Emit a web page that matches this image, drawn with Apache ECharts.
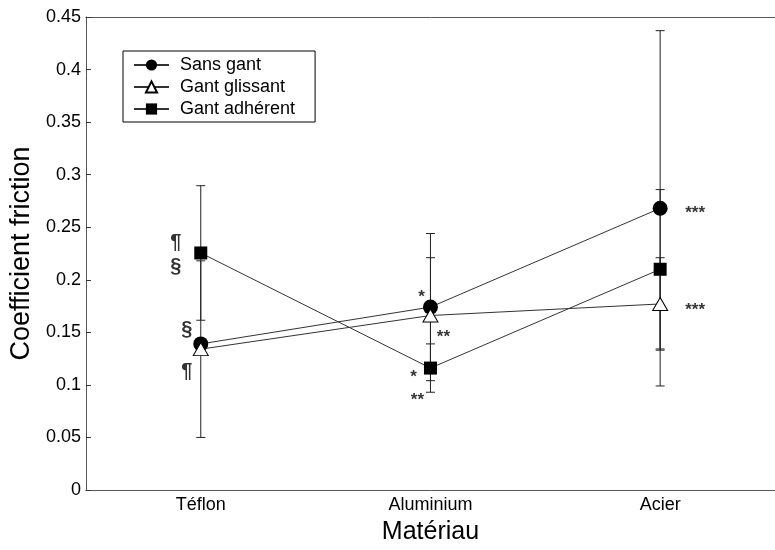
<!DOCTYPE html>
<html><head><meta charset="utf-8">
<script src="https://cdn.jsdelivr.net/npm/echarts@6/dist/echarts.min.js"></script>
<style>html,body{margin:0;padding:0;background:#fff}#c{width:775px;height:550px}</style>
</head><body><div id="c"></div>
<script>
const categories = ['Téflon', 'Aluminium', 'Acier'];
const seriesNames = ['Sans gant', 'Gant glissant', 'Gant adhérent'];
const sansGant = [0.139, 0.174, 0.268];
const gantGlissant = [0.134, 0.166, 0.177];
const gantAdherent = [0.2255, 0.116, 0.210];
const errSansGant = [null, 0.070, 0.169];
const errGlissant = [0.084, 0.055, 0.044];
const errAdherent = [0.064, 0.023, 0.0758];
// significance annotations: category index, value, text
const annotCat = [0, 0, 0, 0, 1, 1, 1, 1, 2, 2];
const annotVal = [0.2364, 0.2137, 0.1533, 0.1133, 0.188, 0.150, 0.112, 0.090, 0.268, 0.176];
const annotText = ['¶', '§', '§', '¶', '*', '**', '*', '**', '***', '***'];
const annotDx = [-25, -25, -14, -14, -9, 13, -17, -13, 35, 35];

const FONT = '"Liberation Sans", Arial, sans-serif';
const chart = echarts.init(document.getElementById('c'), null, {renderer: 'canvas'});

function errData(means, errs) {
  const out = [];
  means.forEach((m, i) => { if (errs[i] != null) out.push([i, m - errs[i], m + errs[i]]); });
  return out;
}
function renderErr(params, api) {
  const lo = api.coord([api.value(0), api.value(1)]);
  const hi = api.coord([api.value(0), api.value(2)]);
  const w = 4.5;
  const st = {stroke: '#222', lineWidth: 1};
  return {type: 'group', children: [
    {type: 'line', shape: {x1: lo[0], y1: lo[1], x2: hi[0], y2: hi[1]}, style: st},
    {type: 'line', shape: {x1: lo[0] - w, y1: lo[1], x2: lo[0] + w, y2: lo[1]}, style: st},
    {type: 'line', shape: {x1: hi[0] - w, y1: hi[1], x2: hi[0] + w, y2: hi[1]}, style: st}
  ]};
}
const errSeries = [[sansGant, errSansGant], [gantGlissant, errGlissant], [gantAdherent, errAdherent]].map(([m, e]) => ({
  type: 'custom', renderItem: renderErr, data: errData(m, e), z: 1, silent: true,
  encode: {x: 0, y: [1, 2]}
}));

const lineCommon = {type: 'line', z: 3, lineStyle: {color: '#333', width: 1}, emphasis: {disabled: true}};
const lineSeries = [
  Object.assign({}, lineCommon, {name: seriesNames[0], data: sansGant, symbol: 'circle', symbolSize: 15,
    itemStyle: {color: '#000', borderColor: '#000', borderWidth: 0}}),
  Object.assign({}, lineCommon, {name: seriesNames[1], data: gantGlissant, symbol: 'triangle', symbolSize: [15, 13],
    itemStyle: {color: '#fff', borderColor: '#000', borderWidth: 1}}),
  Object.assign({}, lineCommon, {name: seriesNames[2], data: gantAdherent, symbol: 'rect', symbolSize: 13,
    itemStyle: {color: '#000', borderColor: '#000', borderWidth: 0}})
];

const annotSeries = {
  type: 'scatter', z: 4, silent: true, symbolSize: 0,
  data: annotVal.map((v, i) => {
    const star = annotText[i].indexOf('*') >= 0;
    return {value: [annotCat[i], v], txt: annotText[i],
      label: {offset: [annotDx[i], star ? 5 : 1], fontSize: star ? 17 : 20,
        fontWeight: 'bold'}};
  }),
  label: {show: true, position: 'inside', color: '#000', fontFamily: FONT,
    formatter: p => p.data.txt}
};

chart.setOption({
  backgroundColor: '#fff',
  animation: false,
  textStyle: {fontFamily: FONT},
  grid: {left: 85, top: 17, width: 700, height: 485, containLabel: false},
  legend: {
    orient: 'vertical', left: 123, top: 51,
    data: seriesNames,
    itemWidth: 35, itemHeight: 14, itemGap: 4,
    padding: [5, 20, 4, 10],
    borderColor: '#000', borderWidth: 1, backgroundColor: '#fff',
    textStyle: {fontSize: 18, color: '#000', fontFamily: FONT, padding: [0, 0, 0, 6]}
  },
  xAxis: [{
    type: 'category', data: categories, boundaryGap: true, position: 'bottom',
    axisLine: {lineStyle: {color: '#555', width: 1}},
    axisTick: {inside: true, length: 5, alignWithLabel: true, lineStyle: {color: '#333'}},
    axisLabel: {fontSize: 18, color: '#000', margin: 6, fontFamily: FONT},
    name: 'Matériau', nameLocation: 'middle', nameGap: 30,
    nameTextStyle: {fontSize: 25, color: '#000', fontFamily: FONT},
    splitLine: {show: false}
  }, {
    type: 'category', data: categories, boundaryGap: true, position: 'top',
    axisLine: {lineStyle: {color: '#555', width: 1}},
    axisTick: {inside: true, length: 5, alignWithLabel: true, lineStyle: {color: '#333'}},
    axisLabel: {show: false}, splitLine: {show: false}
  }],
  yAxis: {
    type: 'value', min: 0, max: 0.45, interval: 0.05,
    axisLine: {show: true, lineStyle: {color: '#555', width: 1}},
    axisTick: {show: true, inside: true, length: 5, lineStyle: {color: '#333'}},
    axisLabel: {fontSize: 18, color: '#000', margin: 5, fontFamily: FONT},
    splitLine: {show: false},
    name: 'Coefficient friction', nameLocation: 'middle', nameGap: 50, nameRotate: 90,
    nameTextStyle: {fontSize: 27, color: '#000', fontFamily: FONT}
  },
  series: [...errSeries, ...lineSeries, annotSeries]
});
</script></body></html>
